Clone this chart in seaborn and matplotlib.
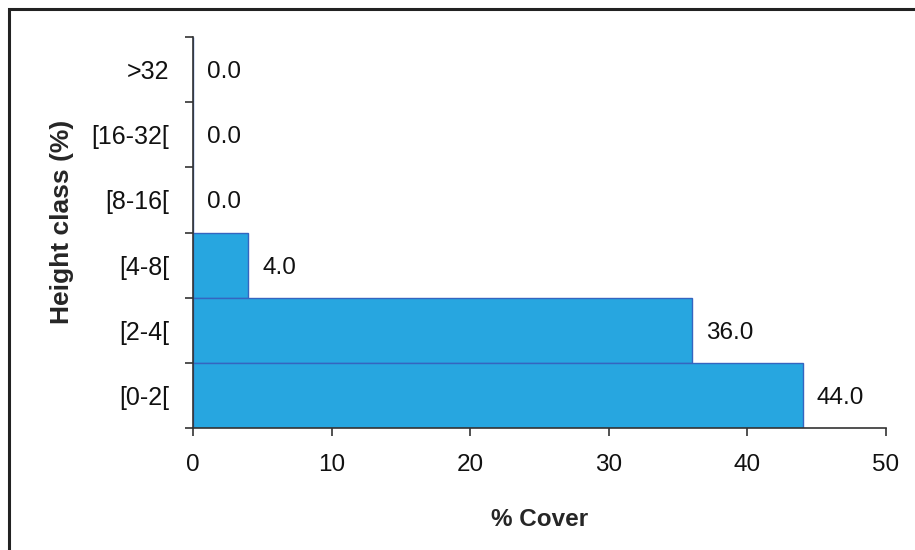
import matplotlib
matplotlib.use("Agg")
import matplotlib.pyplot as plt
import seaborn as sns
import pandas as pd
from matplotlib.patches import Rectangle
from matplotlib.ticker import FixedLocator

# Data
height_classes = [">32", "[16-32[", "[8-16[", "[4-8[", "[2-4[", "[0-2["]
cover = [0.0, 0.0, 0.0, 4.0, 36.0, 44.0]

df = pd.DataFrame({"class": height_classes, "cover": cover})

sns.set_style("white")
plt.rcParams["font.family"] = ["Liberation Sans", "DejaVu Sans"]

fig = plt.figure(figsize=(9.15, 5.5), dpi=100)
ax = fig.add_axes([193 / 915, 122 / 550, 693 / 915, 391 / 550])

sns.barplot(
    data=df,
    x="cover",
    y="class",
    order=height_classes,
    color="#27A6E0",
    saturation=1,
    width=1.0,
    edgecolor="#3565C0",
    linewidth=1.0,
    ax=ax
)

labels = ax.bar_label(ax.containers[0], fmt="%.1f", padding=10, fontsize=17.5, color="#111111")
for t in labels:
    t.set_va("center_baseline")

ax.set_xlim(0, 50)
ax.set_ylim(len(height_classes) - 0.5, -0.5)
ax.set_xticks([0, 10, 20, 30, 40, 50])

# ticks at the class boundaries, labels at the centres
ax.yaxis.set_minor_locator(FixedLocator([i - 0.5 for i in range(len(height_classes) + 1)]))
ax.tick_params(axis="y", which="major", length=0, pad=17, labelsize=18, colors="#111111")
ax.tick_params(axis="y", which="minor", left=True, length=6, width=1.2, color="#333333")
ax.tick_params(axis="x", which="major", bottom=True, length=6, width=1.2, color="#333333",
               pad=13, labelsize=17.5, labelcolor="#111111")

for side in ["top", "right"]:
    ax.spines[side].set_visible(False)
for side in ["left", "bottom"]:
    ax.spines[side].set_color("#333333")
    ax.spines[side].set_linewidth(1.2)

ax.set_xlabel("% Cover", fontsize=17.5, fontweight="bold")
ax.set_ylabel("Height class (%)", fontsize=19, fontweight="bold")
ax.yaxis.set_label_coords(-0.172, 0.527)
ax.xaxis.set_label_coords(0.5, -0.205)

# outer frame (cut off at right and bottom like the source image)
fig.add_artist(Rectangle((9 / 915, -0.1), 1.2, (550 - 9) / 550 + 0.1,
                         transform=fig.transFigure, fill=False,
                         edgecolor="#222222", linewidth=2.2))

fig.savefig("out.png", dpi=100)
